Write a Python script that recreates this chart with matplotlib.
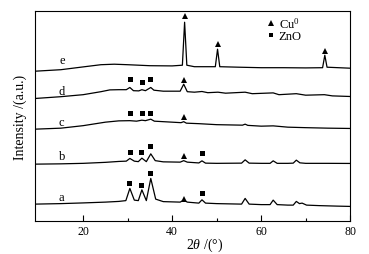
import matplotlib
matplotlib.use('Agg')
from matplotlib import pyplot as plt

# 曲线数据: 2θ 与强度(读图, 各曲线已含纵向偏移)
a_x = [9.2, 15, 20, 25, 28, 29.6, 30.5, 31.5, 32.4, 33.2, 34.2, 35.2, 36.3, 38, 41.8, 42.6, 43.4,
       46.0, 46.7, 47.5, 50, 55.6, 56.4, 57.3, 60, 62.0, 62.7, 63.6, 66, 67.2, 67.9, 68.6, 69.2,
       70.2, 73, 77, 80]
a_y = [17, 17.5, 18.2, 19, 19.7, 20.5, 32.7, 21, 20.5, 31.3, 20.5, 42.7, 22, 19.5, 19, 21, 19,
       18, 21.3, 18, 17.5, 17, 22.7, 17, 16.5, 16.5, 21, 16.5, 16, 16, 19.7, 17.5, 18,
       16, 15.5, 15, 14.7]

b_x = [9.2, 15, 20, 25, 28, 29.7, 30.5, 31.5, 32.4, 33.2, 34.2, 35.2, 36.2, 38, 41.8, 42.6, 43.4,
       46.0, 46.7, 47.5, 50, 55.6, 56.4, 57.3, 60, 62.0, 62.7, 63.6, 66, 67.2, 67.9, 68.7, 70, 75, 80]
b_y = [57, 57.3, 57.8, 58.8, 59.7, 60, 62.7, 60, 59.5, 63, 59.5, 67.3, 60.5, 59.3, 59, 60.5, 59,
       58.2, 60.3, 58, 57.8, 58, 61.3, 58, 57.8, 57.8, 60.3, 57.8, 57.8, 58, 61, 58.3, 57.8, 57.8, 57.7]

c_x = [9.2, 15, 20, 25, 28, 30.5, 32, 33.2, 34, 35.2, 36, 38, 42, 42.6, 43.2, 46, 50, 55.8, 56.4,
       57, 60, 62.7, 66, 70, 75, 80]
c_y = [92, 93, 95.5, 99, 100.3, 100.5, 100, 101, 100.5, 102, 100, 99.5, 98.5, 99.5, 98, 97.5, 96.5,
       96, 97, 95.8, 95, 95.3, 94, 93.5, 93, 92.7]

d_x = [9.2, 15, 20, 24, 26, 28, 29.7, 30.5, 31.3, 32.5, 33.2, 34, 35.2, 35.9, 38, 41.8, 42.6, 43.4,
       45, 46.7, 48, 50.3, 52, 56.4, 58, 62.7, 64, 67.9, 70, 74.2, 76, 80]
d_y = [122.7, 124.5, 126.5, 129.5, 131.3, 131.5, 131.5, 133.7, 130.5, 130.3, 131.5, 130.5, 133.7,
       131, 130, 130, 137, 129.5, 129, 129.7, 128.5, 129, 128, 129, 127.5, 128.3, 126.5, 127.5,
       126, 126.5, 125.3, 124.7]

e_x = [9.2, 15, 20, 24, 27, 30, 35, 40, 42.3, 42.8, 43.3, 45, 49.7, 50.2, 50.7, 55, 60, 65, 70,
       73.8, 74.3, 74.8, 80]
e_y = [150, 151.5, 154.3, 156.5, 157, 156.5, 155.5, 155.3, 156, 199, 156, 154.5, 154.5, 172, 154.5,
       154, 153.5, 153.5, 153.3, 153.5, 166, 154, 153]

# 物相标记位置
cu_x = [42.8, 50.2, 74.3, 42.6, 42.6, 42.6, 42.6]
cu_y = [205, 177, 170.5, 141, 104.3, 65.3, 22.5]
zno_x = [30.5, 33.2, 35.1, 30.5, 33.2, 35.1, 30.5, 33.1, 35.0, 46.7, 30.4, 32.9, 35.0, 46.7]
zno_y = [142, 139.3, 142, 107.7, 107.7, 107.7, 68.8, 68.8, 75.3, 67.7, 37.7, 36.5, 47.7, 27.7]

curve_names = ['a', 'b', 'c', 'd', 'e']
name_y = [24, 65, 99.5, 130.5, 161]

plt.rcParams['font.family'] = ['Liberation Serif', 'DejaVu Serif']
plt.rcParams['mathtext.fontset'] = 'custom'
plt.rcParams['mathtext.rm'] = 'Liberation Serif'
plt.rcParams['mathtext.it'] = 'Liberation Serif:italic'
plt.rcParams['font.size'] = 9

fig = plt.figure(figsize=(3.69, 2.55), dpi=100)
ax = fig.add_axes([0.095, 0.129, 0.854, 0.823])

for xs, ys in [(a_x, a_y), (b_x, b_y), (c_x, c_y), (d_x, d_y), (e_x, e_y)]:
    ax.plot(xs, ys, color='black', lw=0.9)

ax.plot(cu_x, cu_y, linestyle='none', marker='^', ms=4.4, mew=0, color='black', label='Cu$^0$')
ax.plot(zno_x, zno_y, linestyle='none', marker='s', ms=3.6, mew=0, color='black', label='ZnO')

for name, y in zip(curve_names, name_y):
    ax.text(15.2, y, name, ha='center', va='center', fontsize=9)

###########################坐标轴###################################
ax.set_xlim(9.2, 80)
ax.set_ylim(0, 210)
ax.set_xticks([20, 40, 60, 80])
ax.set_xticks([30, 50, 70], minor=True)
ax.tick_params(axis='x', which='major', direction='in', length=4, width=0.8, labelsize=8.5, pad=3)
ax.tick_params(axis='x', which='minor', direction='in', length=2.5, width=0.8)
ax.set_yticks([])
for sp in ax.spines.values():
    sp.set_linewidth(0.8)

ax.set_xlabel(r'2$\theta$ /(°)', fontsize=10)
ax.xaxis.set_label_coords(0.538, -0.07)
ax.set_ylabel('Intensity /(a.u.)', fontsize=10)
ax.yaxis.set_label_coords(-0.025, 0.5)

ax.legend(loc='upper left', bbox_to_anchor=(0.71, 1.02), frameon=False, fontsize=9,
          handlelength=0.6, handletextpad=0.3, labelspacing=0.0, borderpad=0.2, markerscale=0.85)

plt.savefig('out.png', dpi=100)
